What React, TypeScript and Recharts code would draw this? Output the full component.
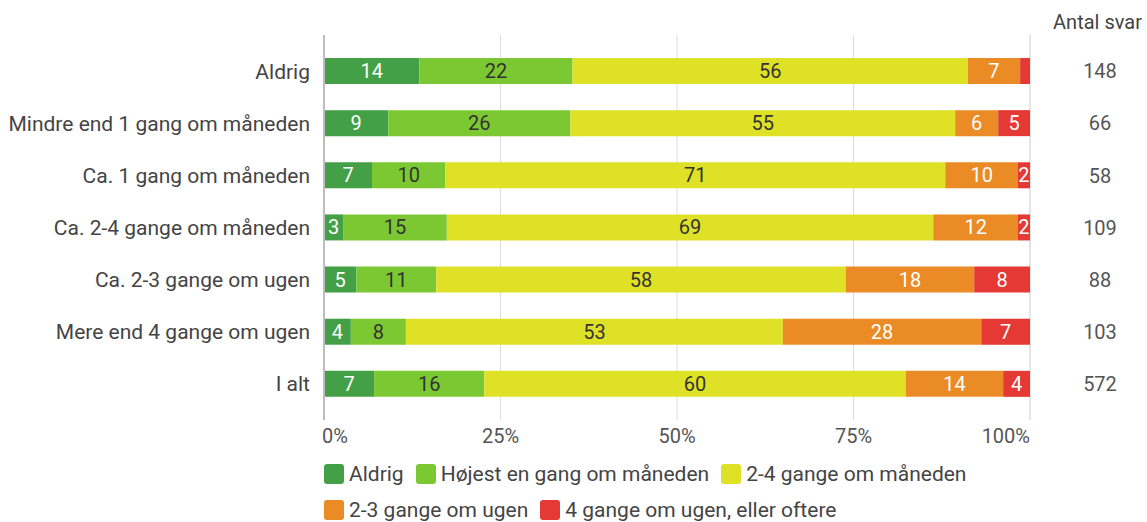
import { BarChart, Bar, XAxis, YAxis, CartesianGrid, Legend, LabelList } from 'recharts'

const categories = [
  'Aldrig',
  'Mindre end 1 gang om måneden',
  'Ca. 1 gang om måneden',
  'Ca. 2-4 gange om måneden',
  'Ca. 2-3 gange om ugen',
  'Mere end 4 gange om ugen',
  'I alt',
]
const aldrig = [13.5, 9.1, 6.8, 2.7, 4.6, 3.8, 7.1]
const hoejestMd = [21.7, 25.8, 10.4, 14.7, 11.3, 7.8, 15.6]
const toFireMd = [56.0, 54.5, 70.8, 68.9, 58.0, 53.4, 59.7]
const toTreUge = [7.4, 6.1, 10.3, 12.0, 18.2, 28.1, 13.8]
const fireUge = [1.4, 4.5, 1.7, 1.7, 7.9, 6.9, 3.8]
const antalSvar = [148, 66, 58, 109, 88, 103, 572]
const xTicks = [0, 25, 50, 75, 100]

const FONT = 'Roboto, "Noto Sans", sans-serif'

const series = [
  { key: 'aldrig', name: 'Aldrig', color: '#43a047', text: '#ffffff' },
  { key: 'hoejestMd', name: 'Højest en gang om måneden', color: '#7cc832', text: '#333333' },
  { key: 'toFireMd', name: '2-4 gange om måneden', color: '#dfe126', text: '#333333' },
  { key: 'toTreUge', name: '2-3 gange om ugen', color: '#ea8b26', text: '#ffffff' },
  { key: 'fireUge', name: '4 gange om ugen, eller oftere', color: '#e53935', text: '#ffffff' },
]

const data = categories.map((label, i) => ({
  label,
  aldrig: aldrig[i],
  hoejestMd: hoejestMd[i],
  toFireMd: toFireMd[i],
  toTreUge: toTreUge[i],
  fireUge: fireUge[i],
}))

function segmentLabel(color: string) {
  return (props: any) => {
    const { x, y, width, height, value } = props
    // the tiny red sliver in the first row has no label
    if (value == null || value < 1.5) return null
    return (
      <text
        x={x + width / 2}
        y={y + height / 2}
        textAnchor="middle"
        dominantBaseline="central"
        fill={color}
        fontSize={20}
        fontFamily={FONT}
      >
        {Math.round(value)}
      </text>
    )
  }
}

function XTick(props: any) {
  const { x, y, payload, index } = props
  const last = index === xTicks.length - 1
  const anchor = index === 0 ? 'start' : last ? 'end' : 'middle'
  return (
    <text
      x={index === 0 ? x - 2 : x}
      y={y}
      dy="0.71em"
      textAnchor={anchor}
      fill="#555"
      fontSize={20}
      fontFamily={FONT}
    >
      {`${payload.value}%`}
    </text>
  )
}

function CountTick(props: any) {
  const { x, y, index } = props
  return (
    <text x={x + 68} y={y} dy="0.36em" textAnchor="middle" fill="#555" fontSize={20} fontFamily={FONT}>
      {antalSvar[index]}
    </text>
  )
}

function LegendContent() {
  return (
    <div
      style={{
        display: 'flex',
        flexWrap: 'wrap',
        width: 760,
        paddingTop: 4,
        fontFamily: FONT,
        fontSize: 21,
        color: '#444',
      }}
    >
      {series.map((s) => (
        <div key={s.key} style={{ display: 'flex', alignItems: 'center', height: 36, marginRight: 12 }}>
          <span
            style={{ width: 20, height: 20, borderRadius: 3, background: s.color, display: 'inline-block', marginRight: 5 }}
          />
          <span>{s.name}</span>
        </div>
      ))}
    </div>
  )
}

export default function App() {
  return (
    <div style={{ position: 'absolute', left: 0, top: 0, background: '#fff' }}>
      <BarChart
        width={1147}
        height={522}
        data={data}
        layout="vertical"
        margin={{ top: 35, right: 0, bottom: 0, left: 0 }}
      >
        <CartesianGrid horizontal={false} stroke="#dcdcdc" />
        <XAxis
          type="number"
          domain={[0, 100]}
          ticks={xTicks}
          axisLine={false}
          tickLine={false}
          tickSize={0}
          tickMargin={9}
          height={32}
          tick={<XTick />}
        />
        <YAxis
          type="category"
          dataKey="label"
          width={324}
          axisLine={{ stroke: '#bdbdbd', strokeWidth: 2 }}
          tickLine={false}
          tickSize={0}
          tickMargin={14}
          padding={{ top: 10, bottom: 10 }}
          tick={{ fill: '#444', fontSize: 21, fontFamily: FONT }}
        />
        <YAxis
          yAxisId="right"
          orientation="right"
          type="category"
          dataKey="label"
          width={117}
          axisLine={false}
          tickLine={false}
          tickSize={0}
          padding={{ top: 10, bottom: 10 }}
          tick={<CountTick />}
          label={{ value: 'Antal svar', position: 'top', offset: 6, dx: 9, fill: '#444', fontSize: 20, fontFamily: FONT }}
        />
        <Legend
          verticalAlign="bottom"
          align="left"
          height={70}
          wrapperStyle={{ left: 324, width: 760, bottom: 0 }}
          content={<LegendContent />}
        />
        {series.map((s) => (
          <Bar key={s.key} dataKey={s.key} name={s.name} stackId="a" fill={s.color} barSize={26} isAnimationActive={false}>
            <LabelList dataKey={s.key} content={segmentLabel(s.text)} />
          </Bar>
        ))}
      </BarChart>
    </div>
  )
}
